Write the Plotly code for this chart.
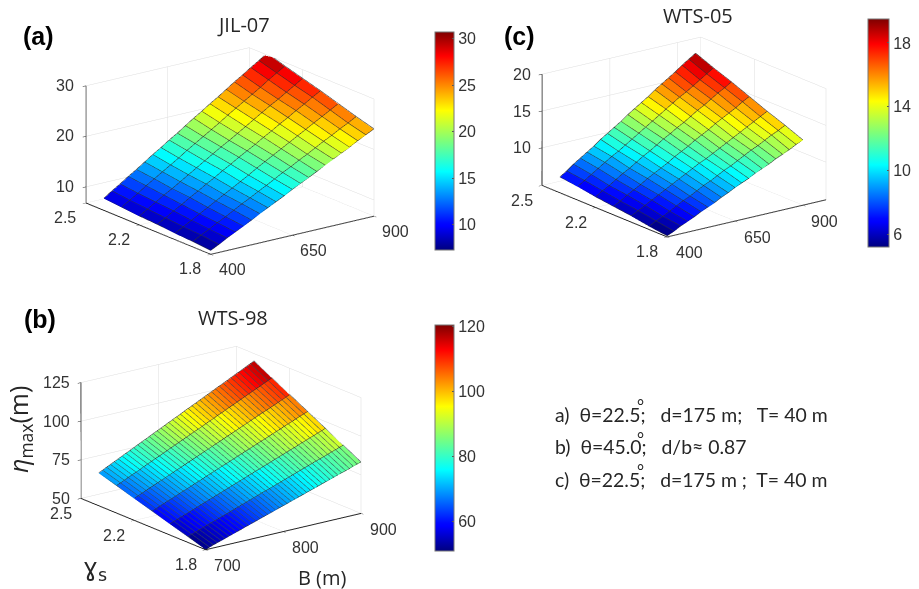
import plotly.graph_objects as go

# ---------- data ----------
GAMMA = [1.8, 1.9, 2.0, 2.1, 2.2, 2.3, 2.4]

A_B = [400,425,450,475,500,525,550,575,600,625,650,675,700,725,750,775,800,825,850,875,900]
A_Z = [
 [7.5,8.3,9.2,10.0,10.8,11.6,12.5,13.3,14.1,14.9,15.8,16.6,17.4,18.2,19.1,19.9,20.7,21.5,22.4,23.2,24.0],
 [7.8,8.7,9.5,10.4,11.2,12.1,13.0,13.8,14.7,15.5,16.4,17.3,18.1,19.0,19.8,20.7,21.6,22.4,23.3,24.1,25.0],
 [8.0,8.9,9.8,10.7,11.6,12.5,13.4,14.3,15.2,16.1,17.1,18.0,18.9,19.8,20.7,21.6,22.5,23.4,24.3,25.2,26.1],
 [8.3,9.2,10.2,11.1,12.1,13.0,14.0,14.9,15.9,16.8,17.8,18.7,19.6,20.6,21.5,22.5,23.4,24.4,25.3,26.3,27.2],
 [8.5,9.5,10.5,11.5,12.4,13.4,14.4,15.4,16.4,17.4,18.4,19.3,20.3,21.3,22.3,23.3,24.3,25.2,26.2,27.2,28.2],
 [8.8,9.8,10.8,11.9,12.9,13.9,14.9,15.9,17.0,18.0,19.0,20.0,21.0,22.1,23.1,24.1,25.1,26.1,27.2,28.2,29.2],
 [9.1,10.2,11.2,12.3,13.3,14.4,15.5,16.5,17.6,18.6,19.7,20.8,21.8,22.9,23.9,25.0,26.1,27.1,28.2,29.2,30.3],
]

C_B = A_B
C_Z = [
 [5.0,5.4,5.9,6.3,6.7,7.2,7.6,8.0,8.5,8.9,9.4,9.8,10.2,10.7,11.1,11.5,12.0,12.4,12.8,13.3,13.7],
 [5.3,5.8,6.2,6.7,7.2,7.7,8.1,8.6,9.1,9.5,10.0,10.5,10.9,11.4,11.9,12.4,12.8,13.3,13.8,14.2,14.7],
 [5.7,6.2,6.7,7.2,7.7,8.2,8.7,9.2,9.7,10.2,10.7,11.1,11.6,12.1,12.6,13.1,13.6,14.1,14.6,15.1,15.6],
 [6.0,6.5,7.1,7.6,8.1,8.7,9.2,9.7,10.2,10.8,11.3,11.8,12.4,12.9,13.4,14.0,14.5,15.0,15.5,16.1,16.6],
 [6.3,6.9,7.4,8.0,8.6,9.1,9.7,10.3,10.8,11.4,12.0,12.5,13.1,13.6,14.2,14.8,15.3,15.9,16.5,17.0,17.6],
 [6.7,7.3,7.9,8.5,9.1,9.7,10.2,10.8,11.4,12.0,12.6,13.2,13.8,14.4,15.0,15.6,16.1,16.7,17.3,17.9,18.5],
 [7.0,7.6,8.3,8.9,9.5,10.1,10.8,11.4,12.0,12.6,13.3,13.9,14.5,15.1,15.8,16.4,17.0,17.6,18.3,18.9,19.5],
]

B_B = [700,705,710,715,720,725,730,735,740,745,750,755,760,765,770,775,780,785,790,795,800,
       805,810,815,820,825,830,835,840,845,850,855,860,865,870,875,880,885,890,895,900]
B_Z = [
 [50.0,50.8,51.7,52.5,53.3,54.1,55.0,55.8,56.6,57.4,58.3,59.1,59.9,60.7,61.6,62.4,63.2,64.0,64.9,65.7,66.5,67.3,68.2,69.0,69.8,70.6,71.5,72.3,73.1,73.9,74.8,75.6,76.4,77.2,78.1,78.9,79.7,80.5,81.4,82.2,83.0],
 [53.5,54.4,55.3,56.2,57.1,58.0,58.9,59.7,60.6,61.5,62.4,63.3,64.2,65.1,66.0,66.9,67.8,68.7,69.6,70.5,71.4,72.2,73.1,74.0,74.9,75.8,76.7,77.6,78.5,79.4,80.3,81.2,82.1,83.0,83.8,84.7,85.6,86.5,87.4,88.3,89.2],
 [57.0,58.0,58.9,59.9,60.8,61.8,62.7,63.7,64.7,65.6,66.6,67.5,68.5,69.4,70.4,71.4,72.3,73.3,74.2,75.2,76.2,77.1,78.1,79.0,80.0,80.9,81.9,82.9,83.8,84.8,85.7,86.7,87.6,88.6,89.6,90.5,91.5,92.4,93.4,94.3,95.3],
 [60.5,61.5,62.6,63.6,64.6,65.6,66.7,67.7,68.7,69.7,70.8,71.8,72.8,73.8,74.9,75.9,76.9,77.9,79.0,80.0,81.0,82.0,83.1,84.1,85.1,86.1,87.2,88.2,89.2,90.2,91.3,92.3,93.3,94.3,95.4,96.4,97.4,98.4,99.5,100.5,101.5],
 [64.0,65.1,66.2,67.3,68.4,69.5,70.6,71.6,72.7,73.8,74.9,76.0,77.1,78.2,79.3,80.4,81.5,82.6,83.7,84.8,85.9,86.9,88.0,89.1,90.2,91.3,92.4,93.5,94.6,95.7,96.8,97.9,99.0,100.1,101.1,102.2,103.3,104.4,105.5,106.6,107.7],
 [67.5,68.7,69.8,71.0,72.1,73.3,74.4,75.6,76.8,77.9,79.1,80.2,81.4,82.5,83.7,84.9,86.0,87.2,88.3,89.5,90.6,91.8,92.9,94.1,95.3,96.4,97.6,98.7,99.9,101.1,102.2,103.4,104.5,105.7,106.9,108.0,109.2,110.3,111.5,112.6,113.8],
 [71.0,72.2,73.5,74.7,75.9,77.1,78.4,79.6,80.8,82.0,83.3,84.5,85.7,86.9,88.2,89.4,90.6,91.8,93.1,94.3,95.5,96.7,98.0,99.2,100.4,101.6,102.9,104.1,105.3,106.5,107.8,109.0,110.2,111.4,112.7,113.9,115.1,116.3,117.6,118.8,120.0],
]

TICKS = {
    "a": dict(x=[400, 650, 900], y=[1.8, 2.2, 2.5], z=[10, 20, 30], c=[10, 15, 20, 25, 30]),
    "b": dict(x=[700, 800, 900], y=[1.8, 2.2, 2.5], z=[50, 75, 100, 125], c=[60, 80, 100, 120]),
    "c": dict(x=[400, 650, 900], y=[1.8, 2.2, 2.5], z=[10, 15, 20], c=[6, 10, 14, 18]),
}

JET = [[0, "#00007f"], [0.11, "#0000ff"], [0.125, "#0008ff"], [0.36, "#00ffff"], [0.5, "#7dff7a"],
       [0.64, "#ffff00"], [0.89, "#ff0000"], [1, "#7f0000"]]

TICK_FONT = dict(family="Liberation Sans", size=16, color="#333333")
W, H = 919, 589
EYE = dict(x=-1.144, y=-1.518, z=0.62)


def tick_notes(key, xr, yr, zr):
    t = TICKS[key]
    # anchors sit a hair inside the axis range: labels on the exact limit can get dropped
    x0 = xr[0] + (xr[1] - xr[0]) * 1e-4
    y0 = yr[0] + (yr[1] - yr[0]) * 1e-4
    y1 = yr[1] - (yr[1] - yr[0]) * 1e-4
    z0 = zr[0] + (zr[1] - zr[0]) * 1e-4
    xm = xr[1] - (xr[1] - xr[0]) * 1e-4
    out = []
    for v in t["x"]:
        out.append(dict(x=min(max(v, x0), xm), y=y0, z=z0, text=str(v), showarrow=False, xshift=22, yshift=-16, font=TICK_FONT))
    for v in t["y"]:
        out.append(dict(x=x0, y=min(max(v, y0), y1), z=z0, text=f"{v:.1f}", showarrow=False, xshift=-20, yshift=-15, font=TICK_FONT))
    for v in t["z"]:
        out.append(dict(x=x0, y=y1, z=max(v, z0), text=str(v), showarrow=False, xanchor="right", xshift=-9, yshift=0, font=TICK_FONT))
    return out


def add_panel(fig, key, bs, zs, xr, zr, crange, center, half, cbar, scene, aspect, hatch_color):
    nx, ny = len(bs), len(GAMMA)
    px, py, pz, ii, jj, kk, cell = [], [], [], [], [], [], []
    for j, g in enumerate(GAMMA):
        for i, b in enumerate(bs):
            px.append(b); py.append(g); pz.append(zs[j][i])
    for j in range(ny - 1):
        for i in range(nx - 1):
            p = j * nx + i
            val = (zs[j][i] + zs[j][i + 1] + zs[j + 1][i] + zs[j + 1][i + 1]) / 4
            ii += [p, p]; jj += [p + 1, p + nx + 1]; kk += [p + nx + 1, p + nx]
            cell += [val, val]
    fig.add_trace(go.Mesh3d(
        x=px, y=py, z=pz, i=ii, j=jj, k=kk, intensity=cell, intensitymode="cell",
        colorscale=JET, cmin=crange[0], cmax=crange[1], flatshading=True,
        lighting=dict(ambient=1, diffuse=0, specular=0, roughness=1, fresnel=0),
        hoverinfo="skip", scene=scene,
        colorbar=dict(x=cbar[0] / W, xanchor="left", y=1 - cbar[1] / H, yanchor="top",
                      xpad=0, ypad=0, thickness=cbar[2], thicknessmode="pixels",
                      len=cbar[3], lenmode="pixels", tickvals=TICKS[key]["c"],
                      tickfont=TICK_FONT, outlinewidth=1, outlinecolor="#777777",
                      ticks="inside", ticklen=2, tickcolor="#555555"),
    ))
    offs = (zr[1] - zr[0]) * 0.004
    lx, ly, lz = [], [], []
    for j, g in enumerate(GAMMA):
        lx += list(bs) + [None]; ly += [g] * nx + [None]; lz += [v + offs for v in zs[j]] + [None]
    fig.add_trace(go.Scatter3d(x=lx, y=ly, z=lz, mode="lines", scene=scene, hoverinfo="skip",
                               showlegend=False, line=dict(color="#303030", width=1)))
    lx, ly, lz = [], [], []
    for i, b in enumerate(bs):
        lx += [b] * ny + [None]; ly += GAMMA + [None]; lz += [zs[j][i] + offs for j in range(ny)] + [None]
    fig.add_trace(go.Scatter3d(x=lx, y=ly, z=lz, mode="lines", scene=scene, hoverinfo="skip",
                               showlegend=False, line=dict(color=hatch_color, width=1)))
    ax = dict(showbackground=False, showspikes=False, zeroline=False, title=dict(text=""),
              gridcolor="#dddddd", gridwidth=1, showline=True, linecolor="#222222", linewidth=2,
              ticks="outside", ticklen=4, tickcolor="#222222", showticklabels=False)
    cx, cy = center
    yr = [1.8, 2.5]
    fig.update_layout({scene: dict(
        domain=dict(x=[(cx - half[0]) / W, (cx + half[0]) / W],
                    y=[1 - (cy + half[1]) / H, 1 - (cy - half[1]) / H]),
        xaxis=dict(ax, range=xr, tickvals=TICKS[key]["x"]),
        yaxis=dict(ax, range=yr, tickvals=TICKS[key]["y"]),
        zaxis=dict(ax, range=zr, tickvals=TICKS[key]["z"]),
        aspectmode="manual", aspectratio=dict(x=aspect[0], y=aspect[1], z=aspect[2]),
        camera=dict(projection=dict(type="orthographic"), center=dict(x=0, y=0, z=0),
                    up=dict(x=0, y=0, z=1), eye=EYE),
        annotations=tick_notes(key, xr, yr, zr),
    )})


fig = go.Figure()
add_panel(fig, "a", A_B, A_Z, [400, 900], [6.8, 30], (7.3, 30.7), (229.5, 150.5), (195, 145), (435, 32, 19, 218), "scene", (1.41, 1.43, 0.85), "#303030")
add_panel(fig, "b", B_B, B_Z, [700, 900], [50, 125], (51, 120.5), (221, 448), (195, 140), (435, 325, 19, 226), "scene2", (1.39, 1.48, 0.87), "#3a4a50")
add_panel(fig, "c", C_B, C_Z, [400, 985], [4.9, 20], (5.2, 19.5), (684, 137), (195, 130), (868, 19, 21, 228), "scene3", (1.53, 1.6, 0.9), "#303030")

TXT = "Liberation Sans"
notes = [
    ("(a)", 38, 36, 25, TXT, "black", 0, True),
    ("(b)", 40, 319, 25, TXT, "black", 0, True),
    ("(c)", 519, 36, 25, TXT, "black", 0, True),
    ("JIL-07", 243, 24, 20, "Open Sans", "#262626", 0, False),
    ("WTS-98", 233, 317, 20, "Open Sans", "#262626", 0, False),
    ("WTS-05", 698, 15, 20, "Open Sans", "#262626", 0, False),
    ("<i>η</i><sub>max</sub>(m)", 19, 430, 25, "Open Sans", "#262626", -90, False),
    ("ɣ<sub>s</sub>", 95, 569, 25, "DejaVu Sans", "#262626", 0, False),
    ("B (m)", 322, 577, 20, "Open Sans", "#262626", 0, False),
]
for t, x, y, s, fam, col, ang, bold in notes:
    fig.add_annotation(text=f"<b>{t}</b>" if bold else t, x=x / W, y=1 - y / H, xref="paper", yref="paper",
                       xanchor="center", yanchor="middle",
                       showarrow=False, textangle=ang, font=dict(family=fam, size=s, color=col))
lines = [("a)  θ=22.5;   d=175 m;   T= 40 m", 414), ("b)  θ=45.0;   d/b≈ 0.87", 447),
         ("c)  θ=22.5;   d=175 m ;  T= 40 m", 479)]
for t, y in lines:
    fig.add_annotation(text=t, x=553 / W, y=1 - y / H, xref="paper", yref="paper", xanchor="left",
                       yanchor="middle", showarrow=False, font=dict(family="Lato", size=19.4, color="#262626"))
for y in (405, 438, 470):
    fig.add_annotation(text="°", x=640 / W, y=1 - y / H, xref="paper", yref="paper", xanchor="center",
                       yanchor="middle", showarrow=False, font=dict(family="Lato", size=17, color="#262626"))

fig.update_layout(width=W, height=H, margin=dict(l=0, r=0, t=0, b=0), paper_bgcolor="white",
                  showlegend=False)
fig.write_html("out.html", post_script="document.body.style.margin='0';", config=dict(displayModeBar=False))
